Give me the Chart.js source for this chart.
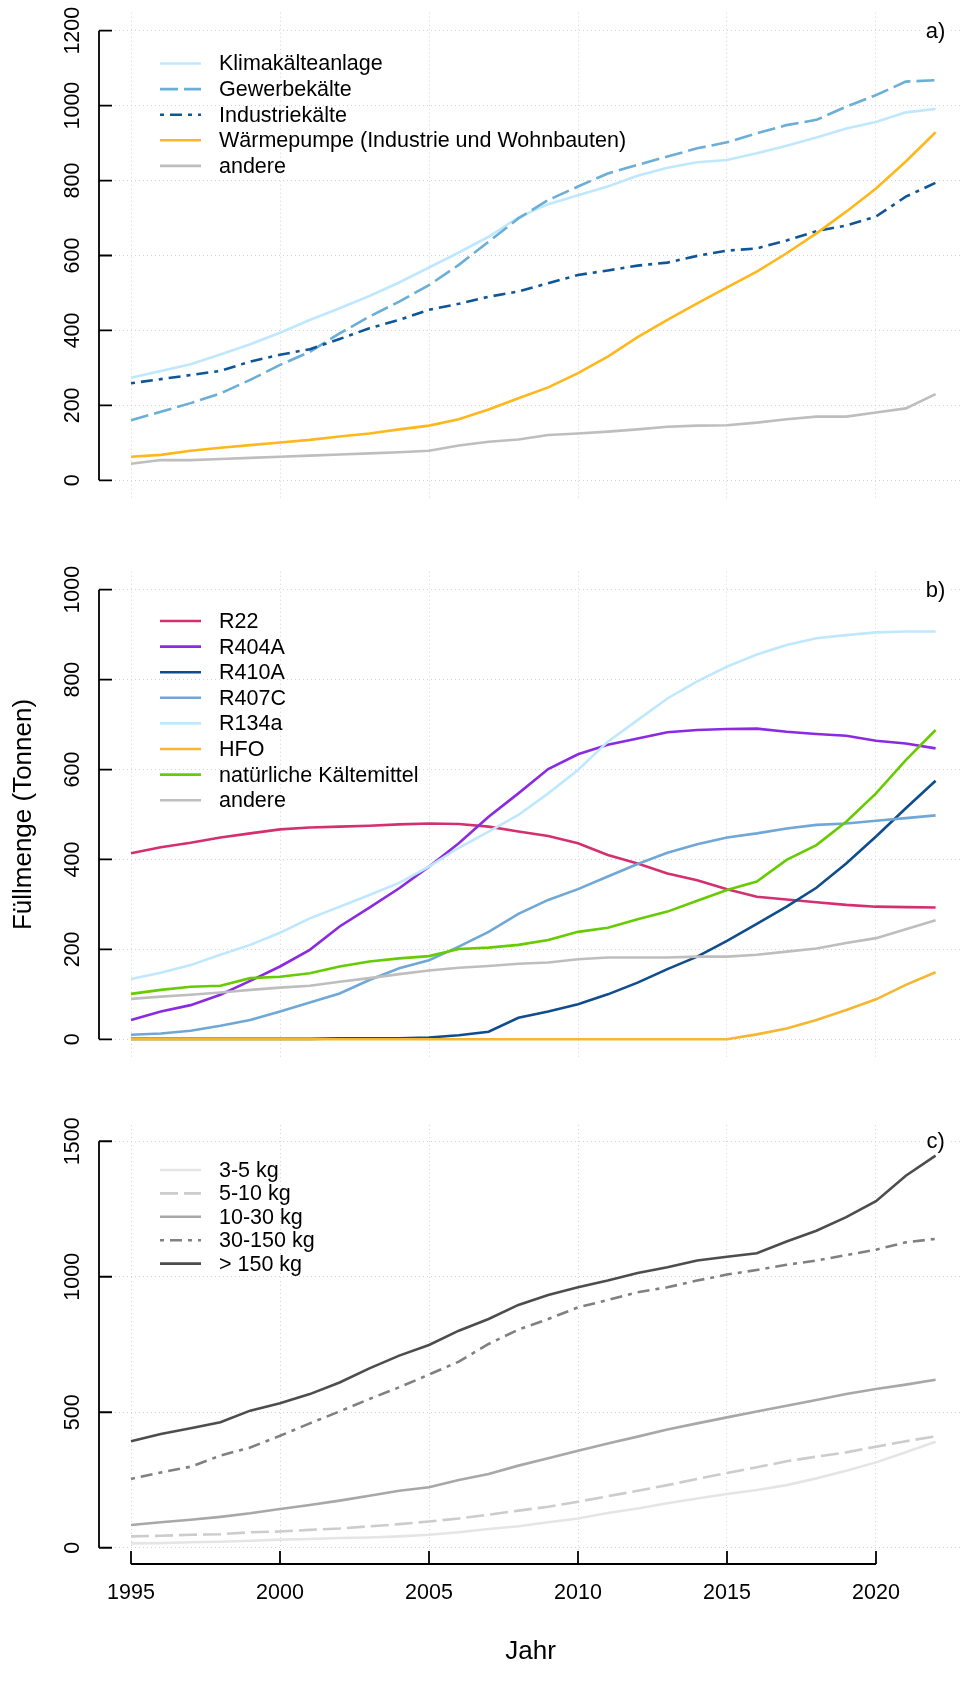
<!DOCTYPE html>
<html>
<head>
<meta charset="utf-8">
<script src="https://cdn.jsdelivr.net/npm/chart.js@4.4.1/dist/chart.umd.min.js"></script>
<style>
  html, body { margin: 0; padding: 0; background: #fff; }
  #wrap { position: relative; width: 962px; height: 1697px; }
  canvas { position: absolute; left: 0; }
</style>
</head>
<body>
<div id="wrap">
  <canvas id="chartA" width="962" height="540" style="top:0"></canvas>
  <canvas id="chartB" width="962" height="540" style="top:540px"></canvas>
  <canvas id="chartC" width="962" height="617" style="top:1080px"></canvas>
</div>
<script>
// years and tick labels
const years = [1995, 1996, 1997, 1998, 1999, 2000, 2001, 2002, 2003, 2004, 2005, 2006, 2007, 2008,
  2009, 2010, 2011, 2012, 2013, 2014, 2015, 2016, 2017, 2018, 2019, 2020, 2021, 2022];
const xTicks = [1995, 2000, 2005, 2010, 2015, 2020];
const yTicksA = [0, 200, 400, 600, 800, 1000, 1200];
const yTicksB = [0, 200, 400, 600, 800, 1000];
const yTicksC = [0, 500, 1000, 1500];

// a) Anwendung
const klima = [274, 292, 310, 336, 363, 394, 428, 459, 492, 528, 568, 608, 650, 702, 737, 761, 784, 813, 834, 849, 855, 873, 893, 915, 939, 956, 982, 991];
const gewerbe = [160, 183, 206, 232, 268, 308, 343, 392, 437, 477, 521, 575, 637, 699, 748, 784, 819, 842, 864, 886, 902, 926, 948, 962, 997, 1028, 1064, 1068];
const industrie = [259, 270, 281, 292, 317, 335, 350, 377, 406, 428, 455, 471, 490, 504, 526, 548, 560, 573, 581, 599, 613, 619, 640, 665, 680, 704, 757, 794];
const waermepumpe = [63, 68, 79, 87, 94, 101, 108, 117, 125, 136, 146, 163, 189, 219, 248, 286, 330, 382, 428, 472, 515, 557, 606, 659, 717, 779, 851, 929];
const andereA = [44, 54, 54, 57, 60, 63, 66, 69, 72, 75, 79, 93, 103, 109, 121, 125, 130, 136, 143, 146, 147, 154, 163, 170, 170, 181, 192, 230];

// b) Kaeltemittel
const r22 = [414, 427, 437, 449, 458, 467, 471, 473, 475, 478, 480, 479, 473, 462, 452, 436, 410, 391, 369, 354, 334, 317, 311, 305, 299, 295, 294, 293];
const r404a = [43, 62, 76, 99, 130, 162, 199, 251, 293, 336, 384, 436, 495, 547, 601, 634, 655, 669, 683, 688, 690, 691, 684, 679, 675, 664, 658, 647];
const r410a = [1, 1, 1, 1, 1, 1, 1, 2, 2, 2, 4, 9, 17, 48, 62, 78, 100, 126, 156, 184, 219, 257, 295, 337, 391, 451, 514, 575];
const r407c = [10, 13, 19, 30, 43, 62, 82, 102, 132, 158, 176, 206, 239, 279, 310, 334, 362, 390, 415, 434, 449, 458, 469, 477, 480, 486, 492, 498];
const r134a = [134, 148, 165, 188, 210, 237, 269, 295, 321, 348, 384, 426, 462, 499, 547, 599, 662, 710, 758, 796, 829, 856, 877, 892, 899, 905, 907, 907];
const hfo = [0, 0, 0, 0, 0, 0, 0, 0, 0, 0, 0, 0, 0, 0, 0, 0, 0, 0, 0, 0, 0, 11, 24, 43, 65, 89, 121, 149];
const natuerlich = [101, 110, 117, 119, 136, 139, 147, 162, 173, 180, 185, 201, 204, 210, 221, 239, 248, 267, 284, 308, 332, 351, 399, 432, 484, 547, 621, 688];
const andereB = [90, 95, 99, 104, 110, 115, 119, 128, 136, 145, 153, 159, 163, 168, 171, 178, 182, 182, 182, 184, 184, 188, 195, 202, 214, 225, 245, 265];

// c) Anlagengroesse
const kg3_5 = [16, 17, 20, 22, 26, 30, 32, 36, 38, 42, 48, 57, 69, 79, 94, 108, 128, 145, 164, 182, 198, 213, 231, 256, 284, 315, 352, 391];
const kg5_10 = [42, 44, 48, 50, 57, 60, 66, 71, 79, 87, 97, 108, 122, 137, 151, 170, 190, 210, 231, 254, 276, 297, 319, 336, 352, 373, 393, 411];
const kg10_30 = [84, 94, 103, 114, 127, 143, 158, 174, 192, 210, 223, 250, 272, 303, 330, 358, 385, 410, 436, 459, 481, 503, 524, 545, 567, 586, 602, 620];
const kg30_150 = [254, 278, 299, 340, 370, 413, 459, 503, 549, 592, 639, 687, 752, 805, 844, 887, 914, 943, 961, 986, 1008, 1025, 1044, 1060, 1080, 1100, 1127, 1140];
const kg150 = [393, 420, 441, 463, 506, 533, 567, 610, 662, 709, 748, 801, 844, 896, 933, 961, 986, 1014, 1035, 1060, 1074, 1087, 1130, 1170, 1220, 1279, 1373, 1447];

const FONT = "'Liberation Sans', Arial, Helvetica, sans-serif";
Chart.defaults.font.family = FONT;
Chart.defaults.color = '#000';

const DASHED = [18, 6];
const DOTDASH = [4, 6, 12, 6];

const toPoints = (vals) => years.map((yr, i) => ({ x: yr, y: vals[i] }));

function line(label, vals, color, dash) {
  return {
    label: label,
    data: toPoints(vals),
    borderColor: color,
    borderWidth: 2.6,
    borderDash: dash || [],
    pointRadius: 0,
    tension: 0,
    fill: false,
  };
}

// R-style axes, legend and panel letter
const rStyle = {
  id: 'rStyle',
  afterDraw(chart, args, opts) {
    const { ctx, chartArea } = chart;
    const xs = chart.scales.x;
    const ys = chart.scales.y;
    ctx.save();

    // y axis line with inward ticks
    const yp = ys.ticks.map((t) => ys.getPixelForValue(t.value));
    ctx.strokeStyle = '#000';
    ctx.lineWidth = 1.8;
    ctx.setLineDash([]);
    ctx.beginPath();
    ctx.moveTo(chartArea.left, yp[0]);
    ctx.lineTo(chartArea.left, yp[yp.length - 1]);
    yp.forEach((p) => {
      ctx.moveTo(chartArea.left, p);
      ctx.lineTo(chartArea.left + 13, p);
    });
    if (opts.xAxis) {
      const xp = xs.ticks.map((t) => xs.getPixelForValue(t.value));
      ctx.moveTo(xp[0], chartArea.bottom);
      ctx.lineTo(xp[xp.length - 1], chartArea.bottom);
      xp.forEach((p) => {
        ctx.moveTo(p, chartArea.bottom);
        ctx.lineTo(p, chartArea.bottom - 13);
      });
    }
    ctx.stroke();

    // legend
    ctx.font = '21.5px ' + FONT;
    ctx.textBaseline = 'middle';
    ctx.textAlign = 'left';
    chart.data.datasets.forEach((ds, i) => {
      const y = chartArea.top + opts.legendTop + i * opts.legendStep;
      ctx.strokeStyle = ds.borderColor;
      ctx.lineWidth = ds.borderWidth;
      ctx.setLineDash(ds.borderDash);
      ctx.beginPath();
      ctx.moveTo(chartArea.left + 61, y);
      ctx.lineTo(chartArea.left + 102, y);
      ctx.stroke();
      ctx.fillStyle = '#000';
      ctx.fillText(ds.label, chartArea.left + 120, y + 1);
    });

    // panel letter
    const lx = xs.getPixelForValue(2022);
    const ly = yp[yp.length - 1];
    ctx.fillStyle = '#fff';
    ctx.fillRect(lx - 12, ly - 12, 25, 24);
    ctx.fillStyle = '#000';
    ctx.font = '22px ' + FONT;
    ctx.textAlign = 'center';
    ctx.fillText(opts.letter, lx, ly + 1);
    ctx.restore();
  },
};

function makeChart(id, cfg) {
  const ctx = document.getElementById(id).getContext('2d');
  return new Chart(ctx, {
    type: 'line',
    data: {
      datasets: cfg.datasets.map((ds, i) => Object.assign(ds, { order: cfg.datasets.length - i })),
    },
    options: {
      responsive: false,
      animation: false,
      layout: { padding: cfg.padding },
      plugins: {
        legend: { display: false },
        tooltip: { enabled: false },
        rStyle: { letter: cfg.letter, legendTop: cfg.legendTop, legendStep: cfg.legendStep, xAxis: cfg.showX },
      },
      scales: {
        x: {
          type: 'linear',
          min: 1993.926,
          max: 2022.886,
          afterBuildTicks: (s) => { s.ticks = xTicks.map((v) => ({ value: v })); },
          afterFit: (s) => { s.height = cfg.xHeight; s.paddingLeft = 0; s.paddingRight = 0; },
          grid: { color: '#d3d3d3', lineWidth: 1, drawTicks: false },
          border: { display: false, dash: [1, 3] },
          ticks: {
            display: cfg.showX,
            padding: 16,
            autoSkip: false,
            maxRotation: 0,
            font: { size: 21.5 },
            callback: (v) => String(v),
          },
          title: { display: cfg.showX, text: 'Jahr', font: { size: 26 }, padding: 0 },
        },
        y: {
          type: 'linear',
          min: cfg.yMin,
          max: cfg.yMax,
          afterBuildTicks: (s) => { s.ticks = cfg.yTicks.map((v) => ({ value: v })); },
          afterFit: (s) => { s.width = 99; s.paddingTop = 0; s.paddingBottom = 0; },
          grid: { color: '#d3d3d3', lineWidth: 1, drawTicks: false },
          border: { display: false, dash: [1, 3] },
          ticks: {
            minRotation: 90,
            maxRotation: 90,
            crossAlign: 'center',
            padding: 2,
            autoSkip: false,
            font: { size: 21.5 },
            callback: (v) => String(v),
          },
          title: {
            display: !!cfg.yTitle,
            text: cfg.yTitle || '',
            font: { size: 26 },
            padding: { top: 8, bottom: 0 },
          },
        },
      },
    },
    plugins: [rStyle],
  });
}

makeChart('chartA', {
  letter: 'a)',
  padding: { top: 12.7, bottom: 41.7, left: 0, right: 0 },
  yMin: -48, yMax: 1248, yTicks: yTicksA,
  showX: false, xHeight: 0,
  legendTop: 50.8, legendStep: 25.6,
  datasets: [
    line('Klimakälteanlage', klima, '#BFE8FF'),
    line('Gewerbekälte', gewerbe, '#6BAED6', DASHED),
    line('Industriekälte', industrie, '#0F559A', DOTDASH),
    line('Wärmepumpe (Industrie und Wohnbauten)', waermepumpe, '#FFB81C'),
    line('andere', andereA, '#BEBEBE'),
  ],
});

makeChart('chartB', {
  letter: 'b)',
  padding: { top: 31.7, bottom: 22.7, left: 0, right: 0 },
  yMin: -40, yMax: 1040, yTicks: yTicksB,
  yTitle: 'Füllmenge (Tonnen)',
  showX: false, xHeight: 0,
  legendTop: 49.3, legendStep: 25.6,
  datasets: [
    line('R22', r22, '#D4306F'),
    line('R404A', r404a, '#8A2BE2'),
    line('R410A', r410a, '#0F4D8C'),
    line('R407C', r407c, '#6FA8D6'),
    line('R134a', r134a, '#BFE8FF'),
    line('HFO', hfo, '#F5B731'),
    line('natürliche Kältemittel', natuerlich, '#66CC00'),
    line('andere', andereB, '#BEBEBE'),
  ],
});

makeChart('chartC', {
  letter: 'c)',
  padding: { top: 45, bottom: 30, left: 0, right: 0 },
  yMin: -60, yMax: 1560, yTicks: yTicksC,
  showX: true, xHeight: 103,
  legendTop: 45, legendStep: 23.4,
  datasets: [
    line('3-5 kg', kg3_5, '#E5E5E5'),
    line('5-10 kg', kg5_10, '#CCCCCC', DASHED),
    line('10-30 kg', kg10_30, '#A8A8A8'),
    line('30-150 kg', kg30_150, '#808080', DOTDASH),
    line('> 150 kg', kg150, '#4D4D4D'),
  ],
});
</script>
</body>
</html>
